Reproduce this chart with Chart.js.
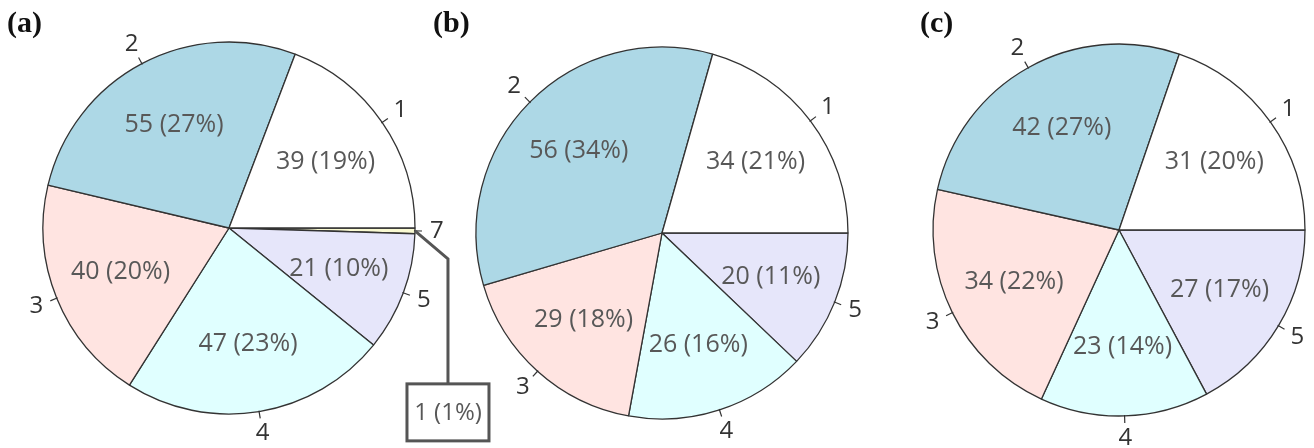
<!DOCTYPE html>
<html><head><meta charset="utf-8">
<script src="https://cdn.jsdelivr.net/npm/chart.js@4/dist/chart.umd.min.js"></script>
<style>
html,body{margin:0;padding:0;background:#fff;}
#wrap{position:relative;width:1314px;height:448px;overflow:hidden;background:#fff;}
canvas{position:absolute;}
.tag{position:absolute;font:bold 30px "Liberation Serif","Times New Roman",serif;color:#111;line-height:1;}
</style></head><body>
<div id="wrap">
<canvas id="ca" width="600" height="500" style="left:-71px;top:-22px"></canvas>
<canvas id="cb" width="500" height="500" style="left:412px;top:-17px"></canvas>
<canvas id="cc" width="500" height="500" style="left:869px;top:-20px"></canvas>
<div class="tag" id="ta" style="left:7px;top:7px"></div>
<div class="tag" id="tb" style="left:433px;top:7px"></div>
<div class="tag" id="tc" style="left:920px;top:7px"></div>
</div>
<script>
// ---- data ----
const panelTitles = ['(a)', '(b)', '(c)'];

const labelsA = ['1', '2', '3', '4', '5', '7'];
const valuesA = [39, 55, 40, 47, 21, 1];
const pctA    = [19, 27, 20, 23, 10, 1];

const labelsB = ['1', '2', '3', '4', '5'];
const valuesB = [34, 56, 29, 26, 20];
const pctB    = [21, 34, 18, 16, 11];

const labelsC = ['1', '2', '3', '4', '5'];
const valuesC = [31, 42, 34, 23, 27];
const pctC    = [20, 27, 22, 14, 17];

// ---- styles ----
const sliceColors = {'1':'#ffffff','2':'#add8e6','3':'#ffe4e1','4':'#e0ffff','5':'#e6e6fa','7':'#fafad2'};
const FONT = '"Open Sans","Noto Sans",sans-serif';

const labelPlugin = {
  id: 'pieLabels',
  afterDatasetsDraw(chart) {
    const ctx = chart.ctx;
    const meta = chart.getDatasetMeta(0);
    const ds = chart.data.datasets[0];
    ctx.save();
    meta.data.forEach((arc, i) => {
      const p = arc.getProps(['x','y','startAngle','endAngle','outerRadius'], true);
      const R = p.outerRadius, x = p.x, y = p.y;
      const mid = (p.startAngle + p.endAngle) / 2;
      const c = Math.cos(mid), s = Math.sin(mid);
      // tick mark
      ctx.strokeStyle = '#333'; ctx.lineWidth = 1.2;
      ctx.beginPath();
      ctx.moveTo(x + c * (R - 1), y + s * (R - 1));
      ctx.lineTo(x + c * (R + 7), y + s * (R + 7));
      ctx.stroke();
      // category label
      ctx.font = '24px ' + FONT;
      ctx.fillStyle = '#333';
      ctx.textAlign = 'center'; ctx.textBaseline = 'middle';
      ctx.fillText(chart.data.labels[i], x + c * (R + 22), y + s * (R + 22));
      // value label
      const txt = ds.data[i] + ' (' + ds.pct[i] + '%)';
      ctx.font = '25px ' + FONT;
      ctx.fillStyle = '#585858';
      if (p.endAngle - p.startAngle < 0.1) {
        const ax = x + c * R, ay = y + s * R;
        const bx = ax + 33;
        ctx.strokeStyle = '#555'; ctx.lineWidth = 3;
        ctx.beginPath();
        ctx.moveTo(ax, ay);
        ctx.lineTo(bx, ay + 28);
        ctx.lineTo(bx, ay + 153);
        ctx.stroke();
        ctx.fillStyle = '#fff';
        ctx.fillRect(bx - 41, ay + 153, 82, 57);
        ctx.strokeRect(bx - 41, ay + 153, 82, 57);
        ctx.fillStyle = '#585858';
        ctx.font = '24px ' + FONT;
        ctx.fillText(txt, bx, ay + 182);
      } else {
        ctx.fillText(txt, x + c * R * 0.63, y + s * R * 0.63);
      }
    });
    ctx.restore();
  }
};

function makePie(id, labels, values, pct) {
  // drawn clockwise from 3 o'clock, so reverse to read counter-clockwise like the reference
  const L = labels.slice().reverse();
  const V = values.slice().reverse();
  const P = pct.slice().reverse();
  return new Chart(document.getElementById(id), {
    type: 'pie',
    data: {
      labels: L,
      datasets: [{
        data: V,
        pct: P,
        backgroundColor: L.map(l => sliceColors[l]),
        borderColor: '#333',
        borderWidth: 1.3
      }]
    },
    options: {
      responsive: false,
      devicePixelRatio: 1,
      animation: false,
      events: [],
      rotation: 90,
      radius: 186,
      layout: { padding: 0 },
      plugins: { legend: { display: false }, tooltip: { enabled: false }, title: { display: false } }
    },
    plugins: [labelPlugin]
  });
}

document.getElementById('ta').textContent = panelTitles[0];
document.getElementById('tb').textContent = panelTitles[1];
document.getElementById('tc').textContent = panelTitles[2];

makePie('ca', labelsA, valuesA, pctA);
makePie('cb', labelsB, valuesB, pctB);
makePie('cc', labelsC, valuesC, pctC);
</script>
</body></html>
